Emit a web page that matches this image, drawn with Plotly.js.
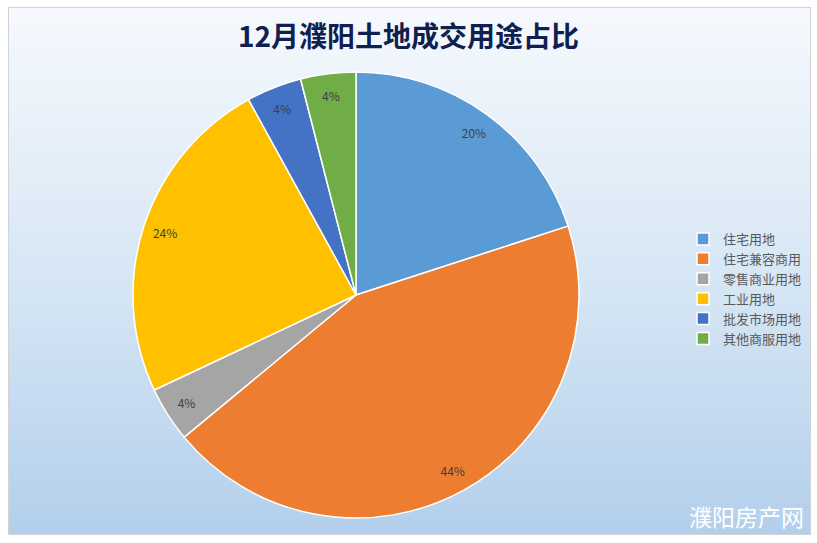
<!DOCTYPE html>
<html>
<head>
<meta charset="utf-8">
<script src="https://cdn.plot.ly/plotly-3.0.1.min.js"></script>
<style>
html,body{margin:0;padding:0;background:#fff;}
#wrap{position:relative;width:817px;height:543px;background:#fff;}
#bg{position:absolute;left:8px;top:7px;width:801px;height:526px;border:1px solid #d0d4d9;
background:linear-gradient(to bottom,#f6f9fd 0%,#d4e5f4 55%,#b3cfeb 100%);}
#chart{position:absolute;left:0;top:0;width:817px;height:543px;}
</style>
</head>
<body>
<div id="wrap"><div id="bg"></div><div id="chart"></div></div>
<script>
var categories = ["住宅用地","住宅兼容商用","零售商业用地","工业用地","批发市场用地","其他商服用地"];
var counts = [5, 11, 1, 6, 1, 1];
var sliceColors = ["#5b9bd5","#ed7d31","#a5a5a5","#ffc000","#4472c4","#70ad47"];
var titleText = "12月濮阳土地成交用途占比";
var watermark = "濮阳房产网";

var dom = {x:[133/817, 579/817], y:[1-518/543, 1-72/543]};
var font = "'Microsoft YaHei','Noto Sans CJK SC',sans-serif";

var pie = {
  type:'pie', labels:categories, values:counts, sort:false, direction:'clockwise', rotation:0,
  marker:{colors:sliceColors, line:{color:'#ffffff', width:1.5}},
  textinfo:'none', hoverinfo:'label+percent', domain:dom, showlegend:true
};
var labelsRing = {
  type:'pie', labels:categories, values:counts, sort:false, direction:'clockwise', rotation:0,
  hole:0.8, marker:{colors:categories.map(function(){return 'rgba(0,0,0,0)';}), line:{width:0}},
  textinfo:'percent', textposition:'inside', insidetextorientation:'horizontal',
  textfont:{family:font, size:12, color:'#404040'}, hoverinfo:'skip', domain:dom, showlegend:false
};

var layout = {
  width:817, height:543, margin:{l:0,r:0,t:0,b:0},
  paper_bgcolor:'rgba(0,0,0,0)', plot_bgcolor:'rgba(0,0,0,0)',
  title:{text:'<b>'+titleText+'</b>', x:0.5, xanchor:'center', y:1-37/543, yanchor:'middle',
    font:{family:font, size:28, color:'#0f2050'}},
  legend:{x:683/817, xanchor:'left', y:1-224/543, yanchor:'top',
    font:{family:font, size:13, color:'#595959'}, tracegroupgap:0, itemwidth:30,
    bgcolor:'rgba(0,0,0,0)'},
  annotations:[{text:watermark, xref:'paper', yref:'paper', x:806/817, y:1-516/543,
    xanchor:'right', yanchor:'middle', showarrow:false,
    font:{family:font, size:23, color:'#ffffff'}}]
};
Plotly.newPlot('chart', [pie, labelsRing], layout, {displayModeBar:false, staticPlot:true});
</script>
</body>
</html>
